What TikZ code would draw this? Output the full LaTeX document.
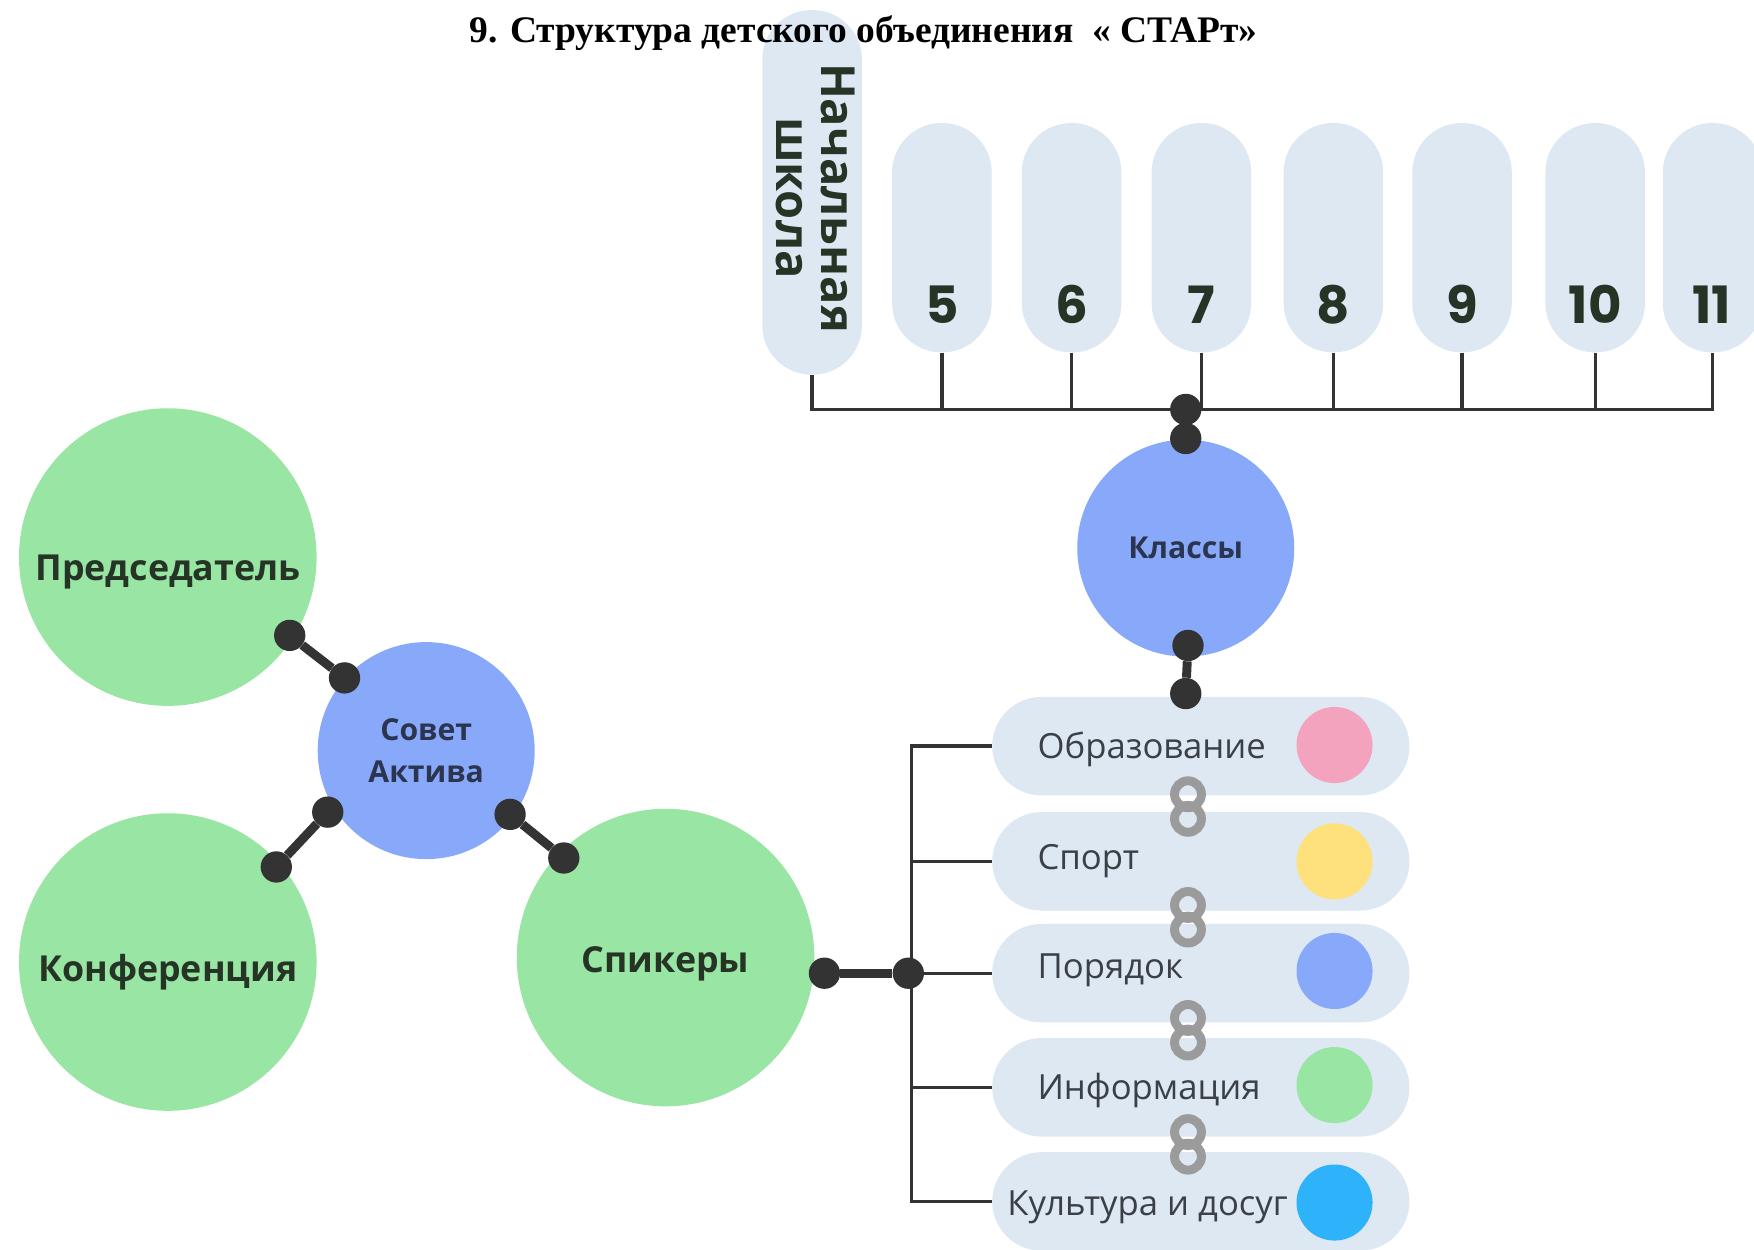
\documentclass[tikz,border=0pt]{standalone}
\usepackage{fontspec}
\newfontfamily\osans{Open Sans}
\newfontfamily\popf{Poppins}
\newfontfamily\tnr{Liberation Serif}
\definecolor{cgreen}{HTML}{98E5A4}
\definecolor{cblue}{HTML}{88A8FA}
\definecolor{cpill}{HTML}{DDE8F3}
\definecolor{cdark}{HTML}{333333}
\definecolor{ctext}{HTML}{263426}
\definecolor{ctextb}{HTML}{2B3550}
\definecolor{ccat}{HTML}{3B4046}
\definecolor{cgray}{HTML}{9B9B9B}
\definecolor{cpink}{HTML}{F4A3BE}
\definecolor{cyellow}{HTML}{FEE07D}
\definecolor{ccyan}{HTML}{2EB2FA}
\newcommand{\lowtext}[2]{\raisebox{-#1}[\height][\depth]{#2}}
\begin{document}
\begin{tikzpicture}[x=1pt,y=-1pt,
  bigc/.style={circle, fill=cgreen, minimum size=266pt, inner sep=0pt, text=ctext,
    font=\osans\bfseries\fontsize{32}{38}\selectfont},
  bluec/.style={circle, fill=cblue, minimum size=194pt, inner sep=0pt, text=ctextb, align=center,
    font=\osans\bfseries\fontsize{27}{37}\selectfont},
  dotn/.style={circle, fill=cdark, minimum size=28pt, inner sep=0pt},
  bar/.style={draw=cdark, line width=8pt},
  wire/.style={draw=cdark, line width=3pt},
  classpill/.style={rectangle, rounded corners=44pt, fill=cpill, minimum width=89pt, minimum height=205pt, inner sep=0pt},
  catpill/.style={rectangle, rounded corners=44pt, fill=cpill, minimum width=373pt, minimum height=88pt, inner sep=0pt},
  num/.style={font=\popf\bfseries\fontsize{46}{50}\selectfont, text=ctext},
  catlabel/.style={anchor=west, font=\osans\fontsize{31}{36}\selectfont, text=ccat},
  catdot/.style={circle, minimum size=68pt, inner sep=0pt},
  ring/.style={circle, draw=cgray, line width=8pt, minimum size=24pt, inner sep=0pt}
]
\useasboundingbox (0,0) rectangle (1568,1117);
\clip (0,0) rectangle (1568,1117);
\fill[white] (0,0) rectangle (1568,1117);

% class pills
\node[classpill, minimum height=326pt] (pn) at (726,172) {};
\node[classpill] (p5) at (842,212.5) {};
\node[classpill] (p6) at (958,212.5) {};
\node[classpill] (p7) at (1074,212.5) {};
\node[classpill] (p8) at (1192,212.5) {};
\node[classpill] (p9) at (1307,212.5) {};
\node[classpill] (p10) at (1426,212.5) {};
\node[classpill] (p11) at (1531,212.5) {};
\node[rotate=-90, align=center, text=ctext, font=\osans\bfseries\fontsize{42}{41}\selectfont] (nsh) at (729,177) {Начальная\\школа};
\node[num] (n5) at (842,272) {5};
\node[num] (n6) at (958,272) {6};
\node[num] (n7) at (1074,272) {7};
\node[num] (n8) at (1192,272) {8};
\node[num] (n9) at (1307,272) {9};
\node[num] (n10) at (1426,272) {10};
\node[num] (n11) at (1530,272) {11};

% title
\node[font=\tnr\bfseries\fontsize{33.5}{38}\selectfont, text=black] (title) at (772,30) {9. Структура детского объединения\ \ « СТАРт»};

% bus
\coordinate (bus) at (0,366);
\draw[wire] (pn.south) -- (pn.south |- bus) -- (p11.south |- bus) -- (p11.south);
\foreach \p in {p5,p6,p7,p8,p9,p10} {\draw[wire] (\p.south) -- (\p.south |- bus);}

% circles
\node[bigc] (pred) at (150,498) {\lowtext{13pt}{Председатель}};
\node[bigc] (konf) at (150,860) {\lowtext{9pt}{Конференция}};
\node[bigc] (spik) at (595,856) {\lowtext{6pt}{Спикеры}};
\node[bluec] (sovet) at (381,671) {Совет\\Актива};
\node[bluec] (klass) at (1060,490) {Классы};

% category pills
\node[catpill] (c1) at (1073.5,667) {};
\node[catpill] (c2) at (1073.5,770) {};
\node[catpill] (c3) at (1073.5,870) {};
\node[catpill] (c4) at (1073.5,972) {};
\node[catpill] (c5) at (1073.5,1074) {};
\node[catlabel] (t1) at (924,670) {Образование};
\node[catlabel] (t2) at (924,770) {Спорт};
\node[catlabel] (t3) at (924,867) {Порядок};
\node[catlabel] (t4) at (924,975) {Информация};
\node[catlabel] (t5) at (897,1079) {Культура и досуг};
\node[catdot, fill=cpink] (k1) at (1193,666) {};
\node[catdot, fill=cyellow] (k2) at (1193,770) {};
\node[catdot, fill=cblue] (k3) at (1193,868) {};
\node[catdot, fill=cgreen] (k4) at (1193,970) {};
\node[catdot, fill=ccyan] (k5) at (1193,1075) {};

% chain links
\foreach \i/\y in {1/721,2/820,3/921,4/1023} {
  \node[ring] (l\i a) at (1062,\y-11) {};
  \node[ring] (l\i b) at (1062,\y+11) {};
}

% bracket
\coordinate (brk) at (815,0);
\draw[wire] (c1.west) -- (c1.west -| brk) -- (c5.west -| brk) -- (c5.west);
\foreach \c in {c2,c3,c4} {\draw[wire] (\c.west) -- (\c.west -| brk);}

% dots and bars
\node[dotn] (kd1) at (1060,366) {};
\node[dotn] (kd2) at (1060,392) {};
\draw[bar] (kd1) -- (kd2);
\node[dotn] (kd3) at (1062,577) {};
\node[dotn] (kd4) at (1060,620) {};
\draw[bar] (kd3) -- (kd4);
\node[dotn] (pd1) at (259,568) {};
\node[dotn] (pd2) at (308,606) {};
\draw[bar] (pd1) -- (pd2);
\node[dotn] (kf1) at (293,726) {};
\node[dotn] (kf2) at (247,775) {};
\draw[bar] (kf1) -- (kf2);
\node[dotn] (sp1) at (456,728) {};
\node[dotn] (sp2) at (504,767) {};
\draw[bar] (sp1) -- (sp2);
\node[dotn] (sd1) at (737,870) {};
\node[dotn] (sd2) at (812,870) {};
\draw[bar] (sd1) -- (sd2);
\end{tikzpicture}
\end{document}
